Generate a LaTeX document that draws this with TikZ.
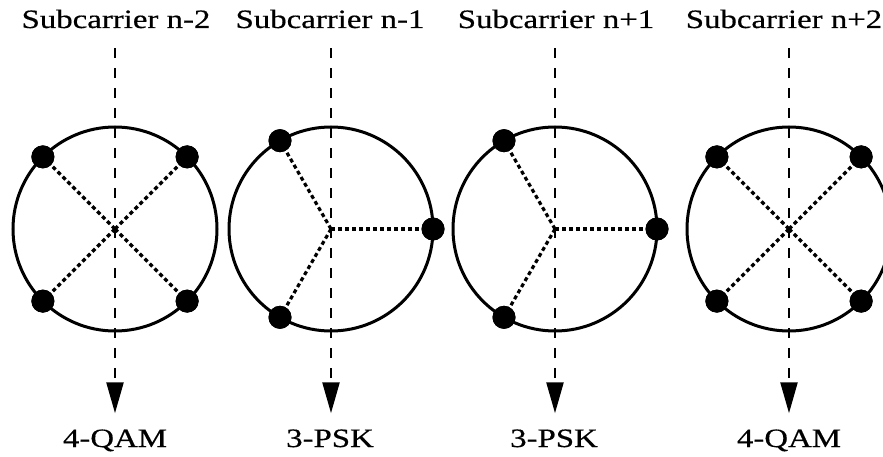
\documentclass[tikz,border=0pt]{standalone}
\usepackage{fontspec}
\setmainfont{Liberation Serif}[FakeStretch=1.24,FakeBold=0.5]
\usetikzlibrary{arrows.meta}
\begin{document}
\begin{tikzpicture}[x=1pt,y=-1pt,
  lab/.style={font=\fontsize{26.5}{30}\selectfont, inner sep=0pt, anchor=base},
  ring/.style={circle, draw, line width=3pt, minimum size=204pt, inner sep=0pt, outer sep=0pt},
  pt/.style={circle, fill, inner sep=0pt, minimum size=23pt},
  dotl/.style={line width=3.2pt, dash pattern=on 4pt off 3pt},
  vline/.style={line width=2.4pt, dash pattern=on 10pt off 10pt, -{Triangle[length=31pt,width=17pt]}}
]
\useasboundingbox (0,0) rectangle (883,457);
\clip (0,0) rectangle (883,457);
% top labels
\node[lab] (t1) at (116,28) {Subcarrier n-2};
\node[lab] (t2) at (330,28) {Subcarrier n-1};
\node[lab] (t3) at (556,28) {Subcarrier n+1};
\node[lab] (t4) at (784,28) {Subcarrier n+2};
% bottom labels
\node[lab] (b1) at (115,447) {4-QAM};
\node[lab] (b2) at (330,447) {3-PSK};
\node[lab] (b3) at (554,447) {3-PSK};
\node[lab] (b4) at (789,447) {4-QAM};
% rings
\node[ring] (r1) at (115,229) {};
\node[ring] (r2) at (331,229) {};
\node[ring] (r3) at (555,229) {};
\node[ring] (r4) at (789,229) {};
% dashed arrows
\foreach \i in {1,2,3,4}{
  \draw[vline] ([yshift=-20pt]r\i |- t\i.south) -- ([yshift=16pt]r\i |- b\i.north);
}
% 4-QAM constellations
\foreach \r in {1,4}{
  \foreach \a in {45,135,225,315}{
    \node[pt] (p\r-\a) at (r\r.\a) {};
    \draw[dotl] (r\r.center) -- (p\r-\a.center);
    \node[pt] at (p\r-\a) {};
  }
}
% 3-PSK constellations
\foreach \r in {2,3}{
  \foreach \a in {0,120,240}{
    \node[pt] (p\r-\a) at (r\r.\a) {};
    \draw[dotl] (r\r.center) -- (p\r-\a.center);
    \node[pt] at (p\r-\a) {};
  }
}
\end{tikzpicture}
\end{document}
